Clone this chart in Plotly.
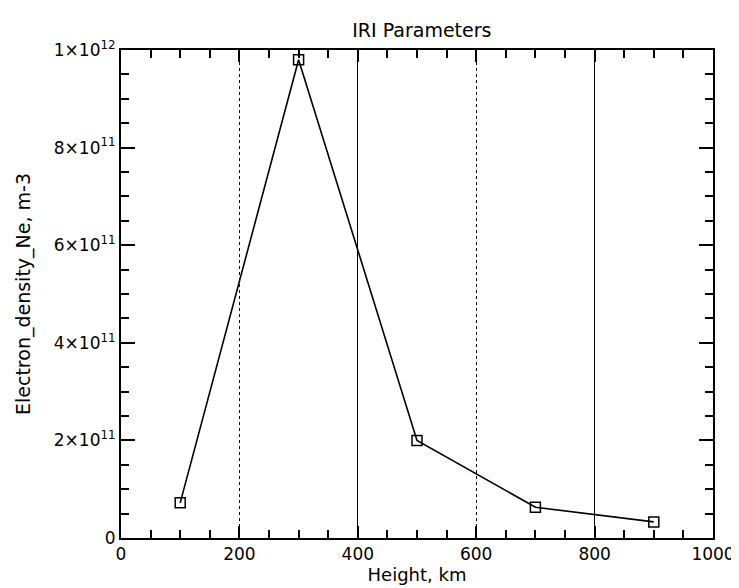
import plotly.graph_objects as go

heights = [100, 300, 500, 700, 900]
electron_density = [7.2e10, 9.8e11, 2.0e11, 6.3e10, 3.3e10]

x_ticks = [0, 200, 400, 600, 800, 1000]
x_ticktext = ["0", "200", "400", "600", "800", "1000"]
y_ticks = [0, 2e11, 4e11, 6e11, 8e11, 1e12]
y_ticktext = ["0", "2×10<sup>11</sup>", "4×10<sup>11</sup>", "6×10<sup>11</sup>",
              "8×10<sup>11</sup>", "1×10<sup>12</sup>"]
solid_grid = [400, 800]

FONT = "DejaVu Sans"

fig = go.Figure()
fig.add_trace(go.Scatter(
    x=heights, y=electron_density, mode="lines+markers",
    line=dict(color="black", width=1.6),
    marker=dict(symbol="square-open", size=10, color="black", line=dict(width=1.5)),
    showlegend=False,
))
# invisible trace on secondary axis for solid grid lines
fig.add_trace(go.Scatter(x=[None], y=[None], xaxis="x2", showlegend=False))

fig.update_layout(
    width=739, height=588,
    margin=dict(l=113, r=24, t=42, b=58),
    paper_bgcolor="white", plot_bgcolor="white",
    font=dict(family=FONT, size=17, color="black"),
    title=dict(text="IRI Parameters", x=0.56, xanchor="center", y=0.962, yanchor="middle",
               font=dict(family=FONT, size=19, color="black")),
    xaxis=dict(
        range=[0, 1000], tickvals=x_ticks, ticktext=x_ticktext,
        showline=True, linecolor="black", linewidth=2, mirror="ticks",
        ticks="inside", ticklen=12, tickwidth=1.5, tickcolor="black",
        showgrid=True, gridcolor="black", griddash="dot", gridwidth=1,
        minor=dict(dtick=50, ticks="inside", ticklen=8, tickwidth=1.5, tickcolor="black", showgrid=False),
        zeroline=False, tickfont=dict(family=FONT, size=17),
        title=dict(text="Height, km", standoff=2, font=dict(family=FONT, size=18)),
    ),
    xaxis2=dict(
        range=[0, 1000], overlaying="x", matches="x", tickvals=solid_grid,
        showticklabels=False, ticks="", showgrid=True, gridcolor="black", gridwidth=1,
        showline=False, zeroline=False,
    ),
    yaxis=dict(
        range=[0, 1e12], tickvals=y_ticks, ticktext=y_ticktext,
        showline=True, linecolor="black", linewidth=2, mirror="ticks",
        ticks="inside", ticklen=14, tickwidth=1.5, tickcolor="black",
        showgrid=False, zeroline=False,
        minor=dict(dtick=5e10, ticks="inside", ticklen=8, tickwidth=1.5, tickcolor="black", showgrid=False),
        tickfont=dict(family=FONT, size=17),
        title=dict(text="Electron_density_Ne, m-3", standoff=18, font=dict(family=FONT, size=19)),
    ),
)

fig.write_html("out.html")
